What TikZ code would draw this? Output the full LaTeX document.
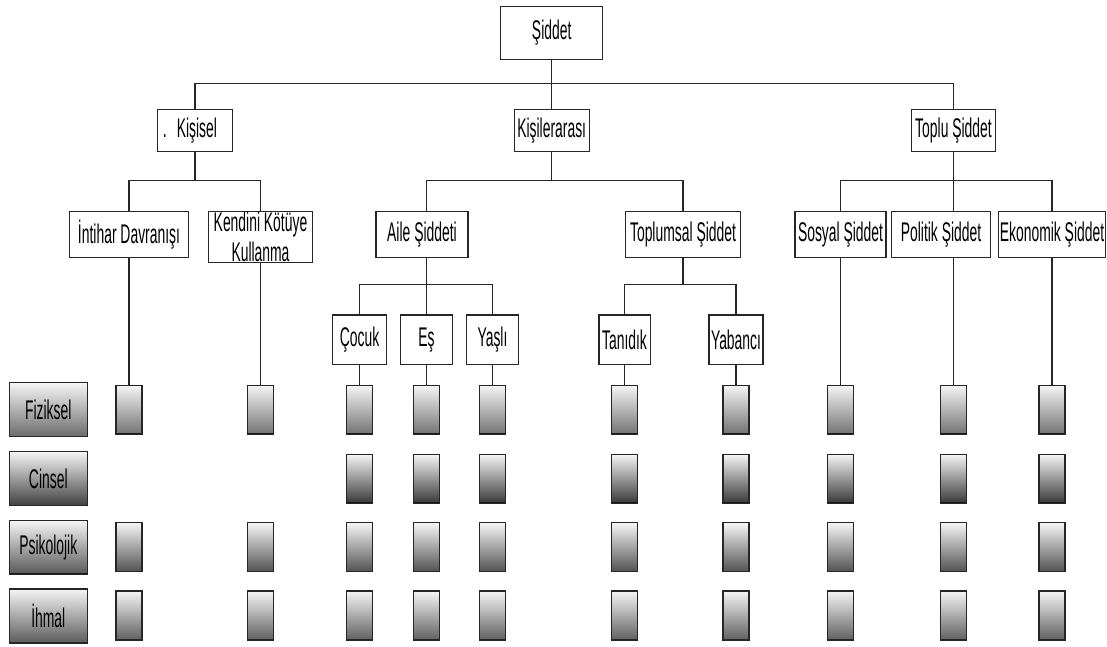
\documentclass[tikz,border=0pt]{standalone}
\usepackage{fontspec}
\setmainfont{Liberation Sans}[FakeStretch=0.515]
\usepackage{tikz}
\usetikzlibrary{positioning}

\begin{document}
\begin{tikzpicture}[
        x=1pt, y=-1pt,
        line width=1.3pt,
        font=\fontsize{27}{30}\selectfont,
        box/.style={
            draw=black!85,
            inner sep=0pt,
            minimum height=46pt,
            align=center,
            fill=white
        },
        cell/.style={
            draw=black!85,
            inner sep=0pt,
            minimum width=26pt,
            minimum height=49pt,
            top color=black!4,
            path picture={\draw[black!90, line width=2.4pt]
                (path picture bounding box.south west) --
                (path picture bounding box.south east);}
        },
        rowlabel/.style={cell, minimum width=78pt, minimum height=54pt},
        link/.style={draw=black!85}
    ]
    \useasboundingbox (0,0) rectangle (1107,646);

    \coordinate (bus0) at (0,83.3);
    \coordinate (bus1) at (0,180.7);
    \coordinate (bus2) at (0,284.3);
    \coordinate (row2) at (0,478.7);

    % tree
    \node[box, minimum width=102pt, minimum height=53pt] (siddet) at (551.7,32.7) {Şiddet};

    \node[box, minimum width=75pt, minimum height=42pt] (kisisel) at (195,130.8) {.\hspace{10pt}Kişisel\hspace{10pt}};
    \node[box, minimum width=75pt, minimum height=42pt] (kisiler) at (551.7,130.8) {Kişilerarası};
    \node[box, minimum width=84pt, minimum height=42pt] (toplu) at (953.5,130.8) {Toplu Şiddet};

    \node[box, minimum width=119pt] (intihar) at (129,234.7) {İntihar Davranışı};
    \node[box, minimum width=104pt, minimum height=50.6pt] (kendini) at (260.5,237) {Kendini Kötüye\\Kullanma};
    \node[box, minimum width=92pt] (aile) at (422,234.7) {Aile Şiddeti};
    \node[box, minimum width=115pt] (toplumsal) at (683,234.7) {Toplumsal Şiddet};
    \node[box, minimum width=91pt] (sosyal) at (840.5,234.7) {Sosyal Şiddet};
    \node[box, minimum width=99pt] (politik) at (941,234.7) {Politik Şiddet};
    \node[box, minimum width=107pt] (ekonomik) at (1052,234.7) {Ekonomik Şiddet};

    \node[box, minimum width=54pt, minimum height=49.3pt] (cocuk) at (359.5,339.7) {Çocuk};
    \node[box, minimum width=52pt, minimum height=49.3pt] (es) at (426.5,339.7) {Eş};
    \node[box, minimum width=52.6pt, minimum height=49.3pt] (yasli) at (492.5,339.7) {Yaşlı};
    \node[box, minimum width=51.3pt, minimum height=49.3pt] (tanidik) at (624.5,339.7) {Tanıdık};
    \node[box, minimum width=54pt, minimum height=49.3pt] (yabanci) at (736,339.7) {Yabancı};

    \draw[link] (siddet) -- (kisiler);
    \draw[link] (kisisel.north) |- (bus0 -| siddet) -| (toplu.north);

    \draw[link] (kisisel) -- (kisisel |- bus1);
    \draw[link] (intihar.north) |- (kisisel |- bus1) -| (kendini.north);
    \draw[link] (kisiler) -- (kisiler |- bus1);
    \draw[link] (aile.north -| es) |- (kisiler |- bus1) -| (toplumsal.north);
    \draw[link] (toplu) -- (toplu |- politik.north);
    \draw[link] (sosyal.north) |- (toplu |- bus1) -| (ekonomik.north);

    \draw[link] (aile.south -| es) -- (es);
    \draw[link] (cocuk.north) |- (bus2 -| es) -| (yasli.north);
    \draw[link] (toplumsal) -- (toplumsal |- bus2);
    \draw[link] (tanidik.north) |- (bus2 -| toplumsal) -| (yabanci.north);

    % grid of cells
    \foreach \col/\x in {intihar/129, kendini/260.5, cocuk/359.5, es/426.5, yasli/492.5,
            tanidik/624.5, yabanci/736, sosyal/840.5, politik/953.5, ekonomik/1052} {
        \foreach \row/\y/\tone in {1/409.8/55, 3/547.3/68, 4/615.5/62}
            \node[cell, bottom color=black!\tone] (\col-\row) at (\x,\y) {};
    }
    \foreach \col in {cocuk, es, yasli, tanidik, yabanci, sosyal, politik, ekonomik}
        \node[cell, bottom color=black!78] (\col-2) at (\col-1 |- row2) {};

    \foreach \col in {intihar, kendini, cocuk, es, yasli, tanidik, yabanci, sosyal, ekonomik}
        \draw[link] (\col) -- (\col-1);
    \draw[link] (politik-1 |- politik.south) -- (politik-1);

    % row labels
    \foreach \row/\y/\tone/\txt in {1/409.8/58/Fiziksel, 2/478.7/75/Cinsel,
            3/547.5/66/Psikolojik, 4/616/64/İhmal}
        \node[rowlabel, bottom color=black!\tone] (label-\row) at (48.3,\y) {\txt};
\end{tikzpicture}
\end{document}
